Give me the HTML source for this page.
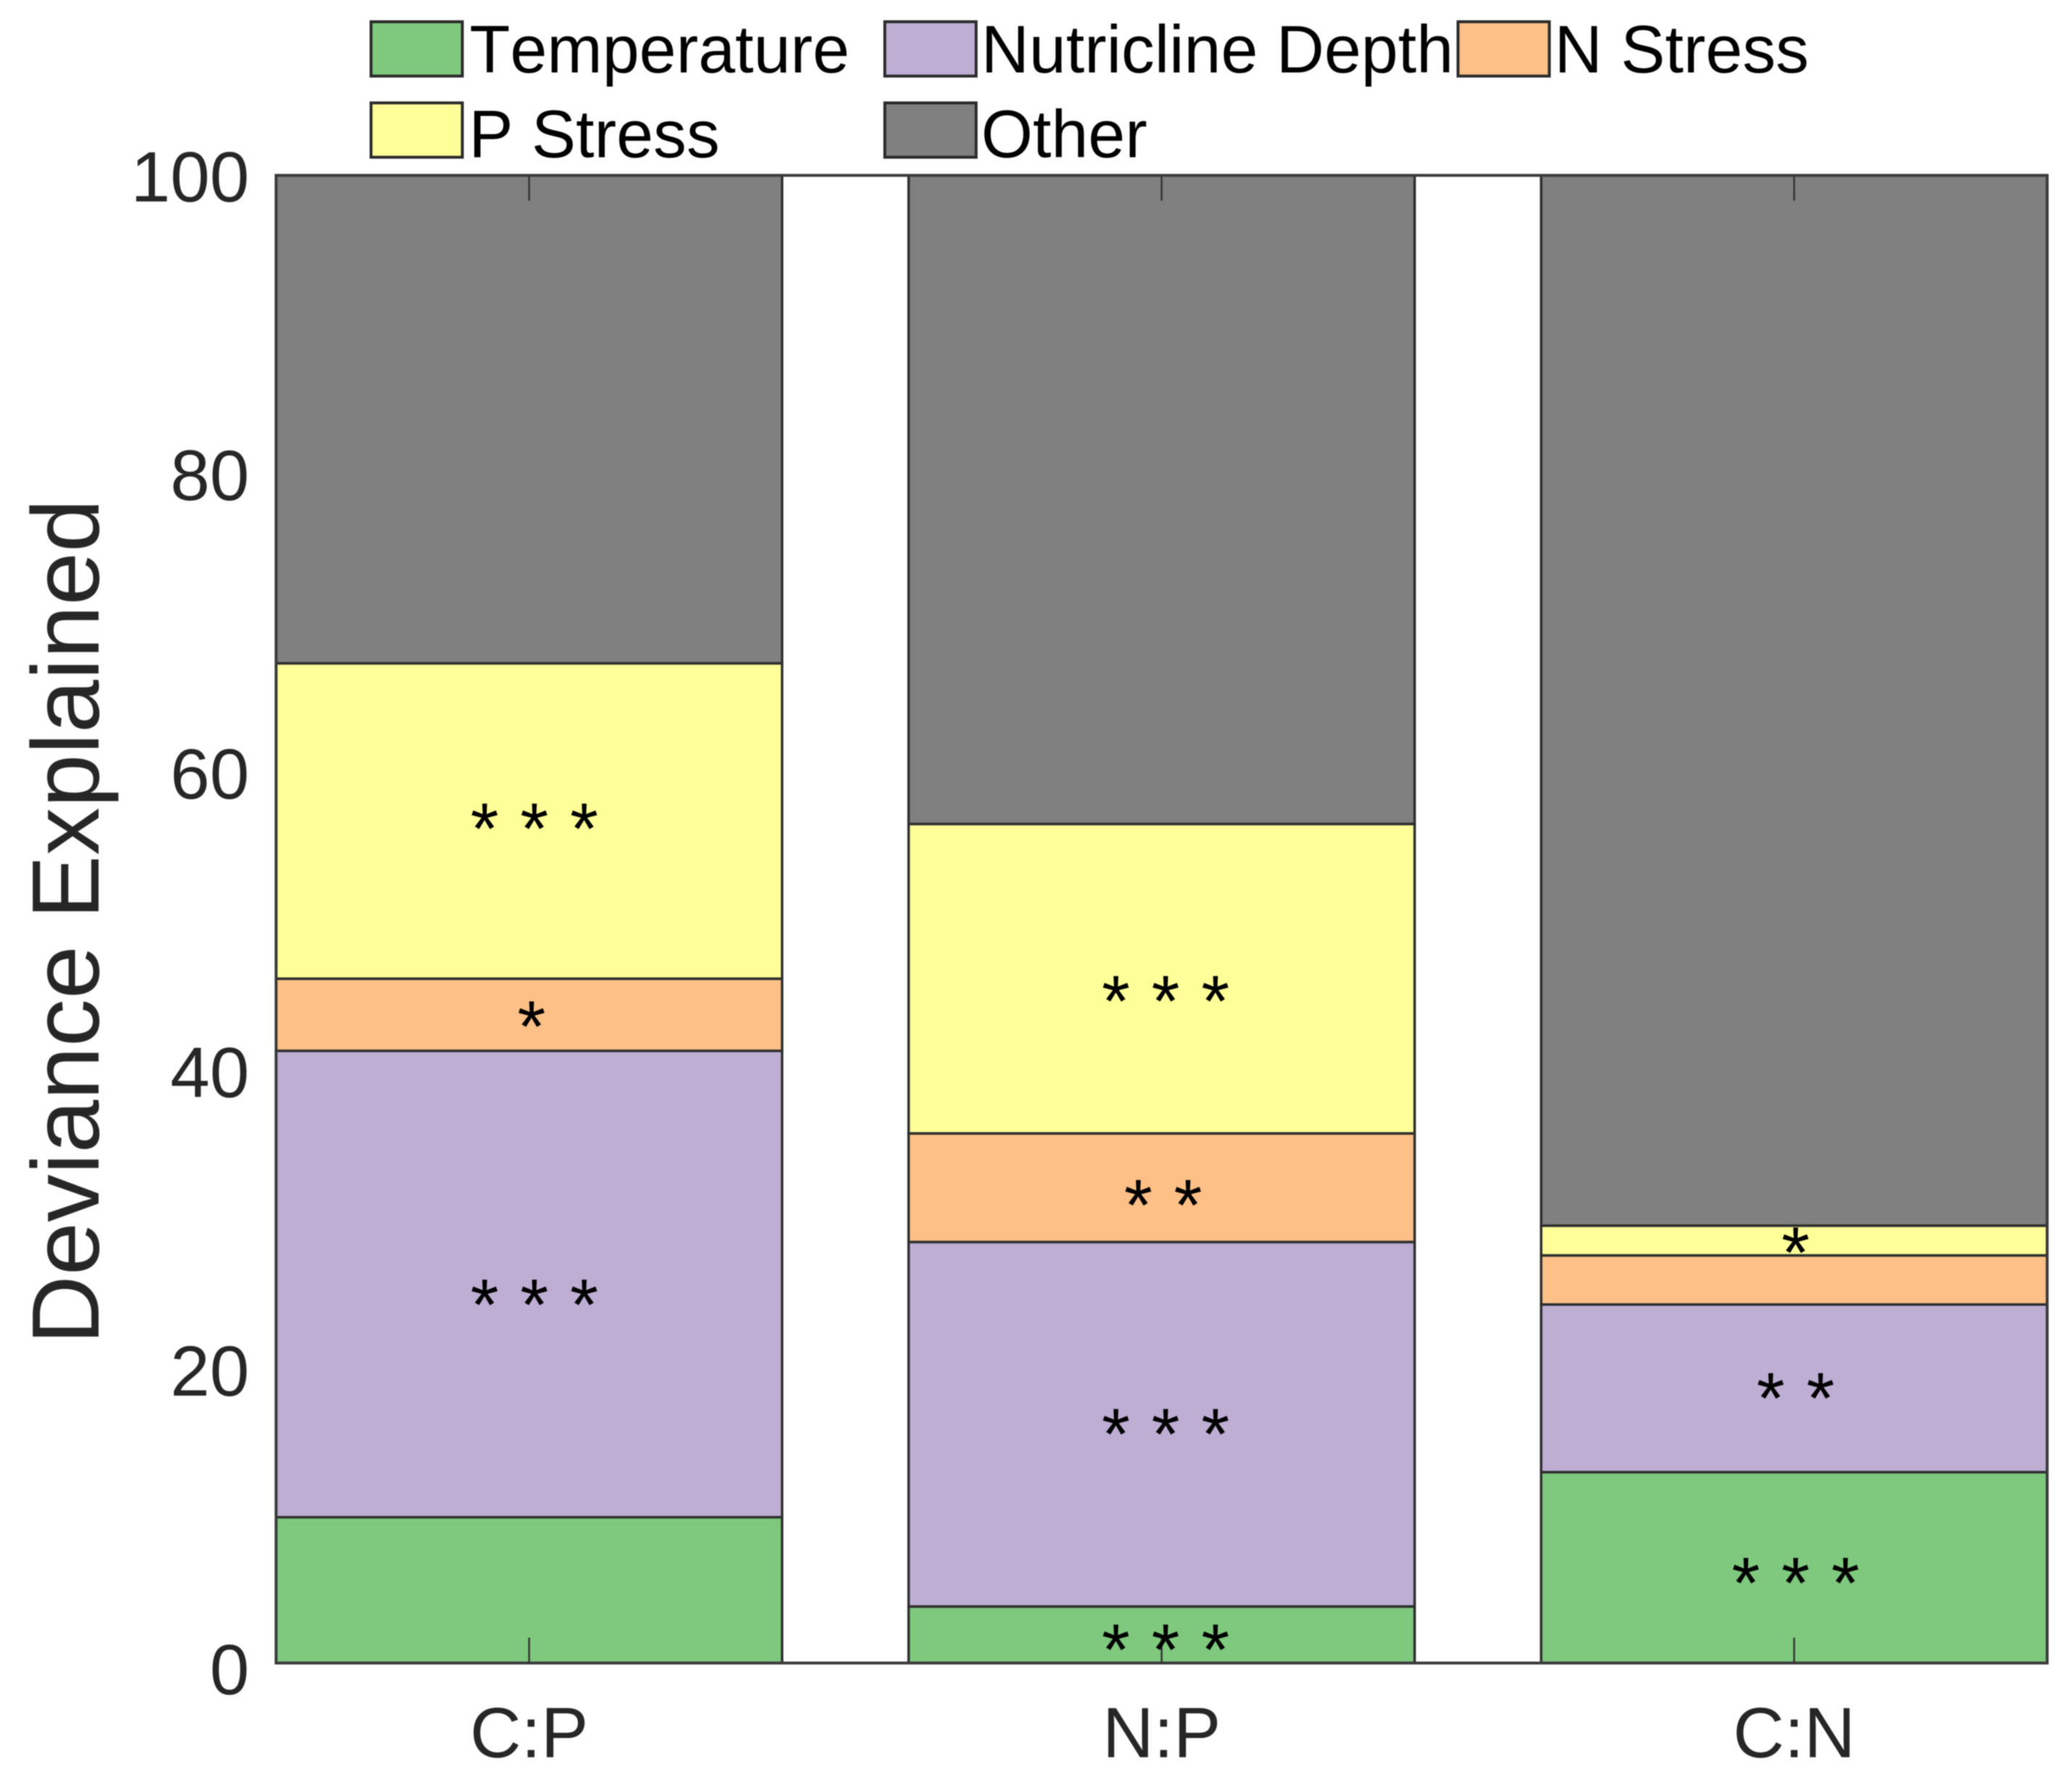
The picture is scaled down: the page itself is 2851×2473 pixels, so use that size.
<!DOCTYPE html>
<html lang="en">
<head>
<meta charset="utf-8">
<title>Deviance Explained</title>
<style>
html,body{margin:0;padding:0;background:#fff;}
svg{display:block;filter:blur(0.7px);}
text{font-family:"Liberation Sans",Arial,sans-serif;font-kerning:none;}
</style>
</head>
<body>
<svg id="chart" xmlns="http://www.w3.org/2000/svg" width="2851" height="2473" viewBox="0 0 2851 2473"></svg>
<script>
const categories = ['C:P', 'N:P', 'C:N'];
const seriesNames = ['Temperature', 'Nutricline Depth', 'N Stress', 'P Stress', 'Other'];
const seriesColors = ['#7fc97f', '#beaed4', '#fdc086', '#ffff99', '#808080'];
const temperature = [9.8, 3.8, 12.83];
const nutriclineDepth = [31.35, 24.5, 11.27];
const nStress = [4.85, 7.3, 3.3];
const pStress = [21.2, 20.8, 2.0];
const other = [32.8, 43.6, 70.6];
const yTicks = [0, 20, 40, 60, 80, 100];
const starX = [1.006, 1.0015, 1.006, 2.004, 2.0, 2.004, 2.004, 3.0, 3.0, 3.0];
const starCenter = [56.7, 43.4, 24.7, 45.1, 31.4, 16.0, 1.5, 28.2, 18.4, 6.0];
const starLabels = ['* * *', '*', '* * *', '* * *', '* *', '* * *', '* * *', '*', '* *', '* * *'];

const NS = 'http://www.w3.org/2000/svg';
const svg = document.getElementById('chart');
const allSeries = [temperature, nutriclineDepth, nStress, pStress, other];
const plot = {left: 381, right: 2825, top: 242, bottom: 2295};
const xMin = 0.6, xMax = 3.4, barWidth = 0.8;
const xScale = v => plot.left + (v - xMin) / (xMax - xMin) * (plot.right - plot.left);
const yScale = v => plot.bottom - v / 100 * (plot.bottom - plot.top);

function make(tag, attrs, text) {
  const el = document.createElementNS(NS, tag);
  for (const k in attrs) el.setAttribute(k, attrs[k]);
  if (text !== undefined) el.textContent = text;
  svg.appendChild(el);
  return el;
}

categories.forEach((cat, c) => {
  let base = 0;
  allSeries.forEach((series, s) => {
    const top = base + series[c];
    const x0 = xScale(c + 1 - barWidth / 2), x1 = xScale(c + 1 + barWidth / 2);
    const seg = make('rect', {x: x0, y: yScale(top), width: x1 - x0, height: yScale(base) - yScale(top), fill: seriesColors[s], stroke: '#2e2e2e', 'stroke-width': 3.5});
    
    
    base = top;
  });
});

const axisBox = make('rect', {x: plot.left, y: plot.top, width: plot.right - plot.left, height: plot.bottom - plot.top, fill: 'none', stroke: '#3a3a3a', 'stroke-width': 4});



categories.forEach((cat, c) => {
  const x = xScale(c + 1);
  const tickTop = make('line', {x1: x, x2: x, y1: plot.top, y2: plot.top + 35, stroke: '#333', 'stroke-width': 2.5});
  
  
  const tickBottom = make('line', {x1: x, x2: x, y1: plot.bottom, y2: plot.bottom - 35, stroke: '#333', 'stroke-width': 2.5});
  
  
  const label = make('text', {x: x, y: 2425, 'text-anchor': 'middle', 'font-size': 98, fill: '#262626'}, cat);
  
  
});

yTicks.forEach(t => {
  const label = make('text', {x: 344, y: yScale(t) + 36 + (100 - t) * 0.07, 'text-anchor': 'end', 'font-size': 98, fill: '#262626'}, String(t));
  
  
});

starCenter.forEach((v, i) => {
  const star = make('text', {x: xScale(starX[i]) + 2, y: yScale(v) + 47, 'text-anchor': 'middle', 'font-size': 100, 'word-spacing': 2, fill: '#000'}, starLabels[i]);
  
  
});

const legendSwatchX = [512, 1221, 2012, 512, 1221];
const legendTextX = [648, 1354, 2145, 647, 1354];
const legendSwatchY = [30, 30, 30, 142, 142];
const legendBaseY = [100, 100, 100, 217, 217];
seriesNames.forEach((name, s) => {
  const swatch = make('rect', {x: legendSwatchX[s], y: legendSwatchY[s], width: 126, height: 75, fill: seriesColors[s], stroke: '#2a2a2a', 'stroke-width': 4});
  
  
  const label = make('text', {transform: 'translate(' + legendTextX[s] + ' ' + legendBaseY[s] + ') scale(0.985 1)', 'font-size': 93, fill: '#000'}, name);
  
  
});

const yTitle = make('text', {transform: 'translate(136 1272) rotate(-90)', 'text-anchor': 'middle', 'font-size': 132, fill: '#262626'}, 'Deviance Explained');


</script>
</body>
</html>
